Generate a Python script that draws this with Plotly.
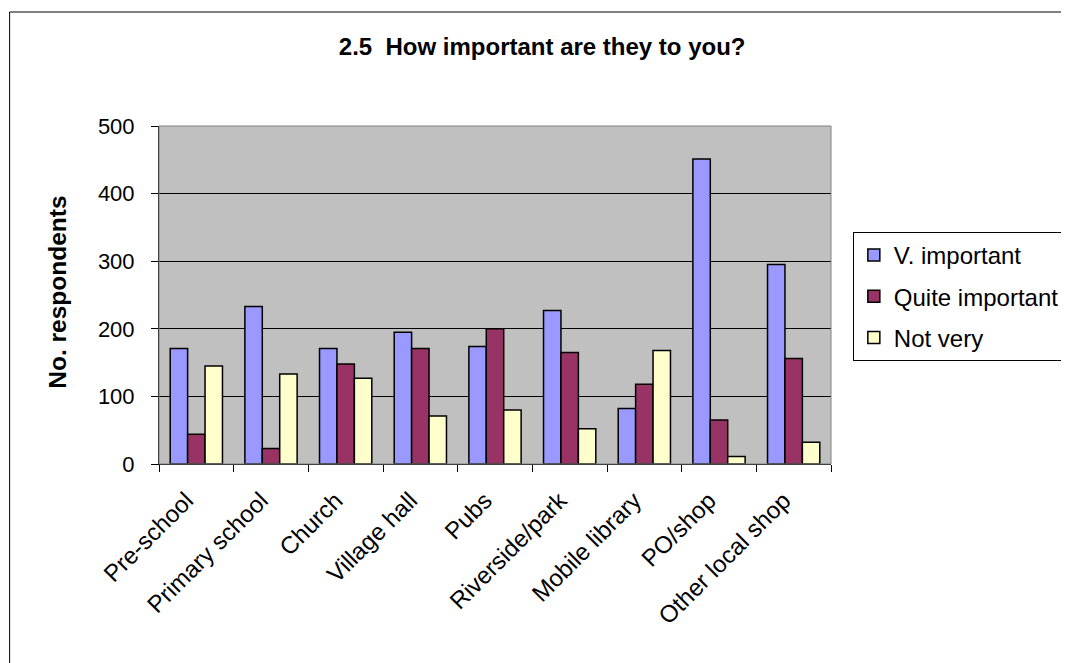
import plotly.graph_objects as go

categories = ["Pre-school", "Primary school", "Church", "Village hall", "Pubs",
              "Riverside/park", "Mobile library", "PO/shop", "Other local shop"]
v_important = [171, 233, 171, 195, 174, 227, 82, 451, 295]
quite_important = [44, 23, 148, 171, 200, 165, 118, 65, 156]
not_very = [145, 133, 127, 71, 80, 52, 168, 11, 32]
y_ticks = [0, 100, 200, 300, 400, 500]

FONT = "Liberation Sans, Arial, sans-serif"
OFF = 8  # default body margin of the html page

fig = go.Figure()
for i, (name, vals, col) in enumerate([("V. important", v_important, "#9999FF"),
                                       ("Quite important", quite_important, "#993366"),
                                       ("Not very", not_very, "#FFFFCC")]):
    fig.add_trace(go.Bar(x=categories, y=vals, name=name, legendgroup=f"g{i}",
                         marker=dict(color=col, line=dict(color="black", width=1.5))))

# target screen positions of plot area
W, H = 1069, 663
PX0, PX1, PY0, PY1 = 159, 836, 126, 464
pw, ph = PX1 - PX0, PY1 - PY0
L, T = PX0 - OFF, PY0 - OFF
R, B = W - L - pw, H - T - ph

def px(x):
    return (x - PX0) / pw

def py(y):
    return (PY1 - y) / ph

fig.update_layout(
    width=W, height=H,
    margin=dict(l=L, r=R, t=T, b=B, pad=0),
    paper_bgcolor="white", plot_bgcolor="#C0C0C0",
    barmode="group", bargap=0.3, bargroupgap=0,
    font=dict(family=FONT, size=22, color="black"),
    title=dict(text="<b>2.5  How important are they to you?</b>",
               x=px(545), xref="paper", xanchor="center",
               y=1 - (47 - OFF) / H, yanchor="middle",
               font=dict(family=FONT, size=24, color="black")),
    legend=dict(x=px(858), xanchor="left", y=py(232), yanchor="top",
                bordercolor="black", borderwidth=1, bgcolor="white",
                font=dict(family=FONT, size=24), tracegroupgap=7,
                itemwidth=30),
    showlegend=True,
)
fig.update_yaxes(range=[0, 500], tickvals=y_ticks, showgrid=True, gridcolor="black",
                 gridwidth=1, showline=True, linecolor="black", linewidth=1,
                 ticks="outside", ticklen=7, tickcolor="black", zeroline=False,
                 tickfont=dict(size=22), ticklabelstandoff=12)
fig.update_xaxes(showline=True, linecolor="black", linewidth=1, ticks="outside",
                 tickson="boundaries", ticklen=7, tickcolor="black", tickangle=-45,
                 tickfont=dict(size=24), mirror=False,
                 ticklabelstandoff=12, ticklabelshift=-10)
fig.add_annotation(text="<b>No. respondents</b>", textangle=-90, showarrow=False,
                   xref="paper", yref="paper", x=px(56), y=py(292),
                   xanchor="center", yanchor="middle",
                   font=dict(family=FONT, size=24.5, color="black"))
# plot area border (gray)
fig.add_shape(type="rect", xref="paper", yref="paper", x0=0, x1=1, y0=0, y1=1,
              line=dict(color="#808080", width=1), layer="above")
# outer chart border
fig.add_shape(type="rect", xref="paper", yref="paper",
              x0=px(OFF + 0.5), x1=px(1090), y0=py(690), y1=py(12),
              line=dict(color="black", width=1))
fig.write_html("out.html", config={"displayModeBar": False})
